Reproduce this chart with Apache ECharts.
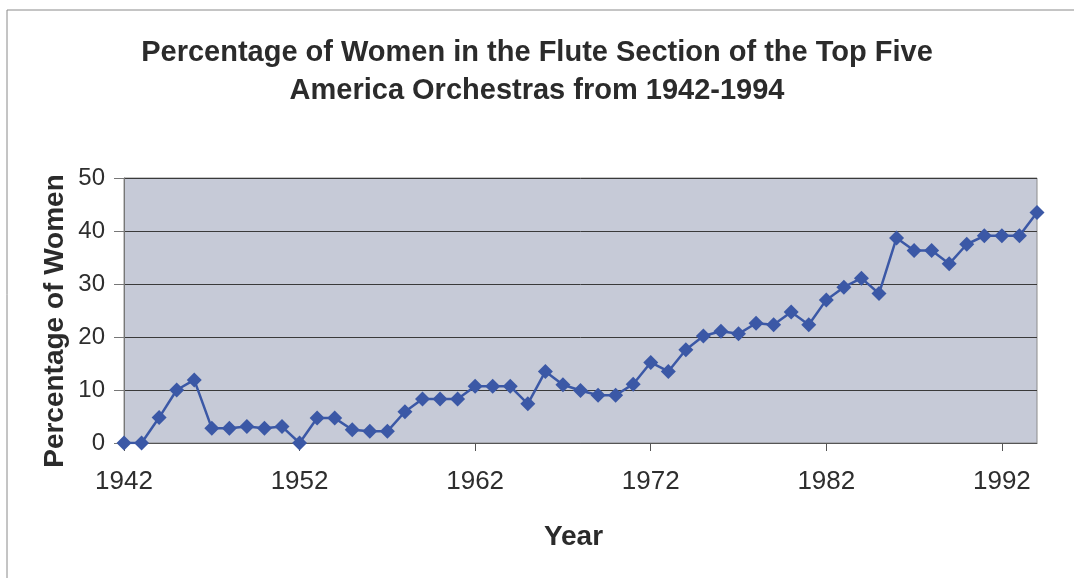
<!DOCTYPE html>
<html>
<head>
<meta charset="utf-8">
<script src="https://cdn.jsdelivr.net/npm/echarts@6/dist/echarts.min.js"></script>
<style>
  html, body { margin: 0; padding: 0; background: #fff; }
  #chart { width: 1074px; height: 578px; }
</style>
</head>
<body>
<div id="chart"></div>
<script>
  // years on the x axis, 1942 - 1994
  var years = ['1942','1943','1944','1945','1946','1947','1948','1949','1950','1951',
               '1952','1953','1954','1955','1956','1957','1958','1959','1960','1961',
               '1962','1963','1964','1965','1966','1967','1968','1969','1970','1971',
               '1972','1973','1974','1975','1976','1977','1978','1979','1980','1981',
               '1982','1983','1984','1985','1986','1987','1988','1989','1990','1991',
               '1992','1993','1994'];
  // percentage of women
  var womenPct = [0, 0, 4.8, 10, 11.9, 2.8, 2.8, 3.1, 2.8, 3.1,
                  0, 4.7, 4.7, 2.5, 2.2, 2.2, 5.9, 8.3, 8.3, 8.3,
                  10.7, 10.7, 10.7, 7.4, 13.5, 11, 9.9, 9, 9, 11.1,
                  15.2, 13.5, 17.6, 20.2, 21.1, 20.6, 22.6, 22.3, 24.7, 22.3,
                  27, 29.4, 31.1, 28.2, 38.7, 36.3, 36.3, 33.8, 37.5, 39.1,
                  39.1, 39.1, 43.5];
  var yTicks = [0, 10, 20, 30, 40, 50];

  var font = "'Liberation Sans', Arial, sans-serif";
  var myChart = echarts.init(document.getElementById('chart'));

  var option = {
    backgroundColor: '#fff',
    animation: false,
    title: {
      text: 'Percentage of Women in the Flute Section of the Top Five\nAmerica Orchestras from 1942-1994',
      left: 'center',
      top: 29,
      textStyle: {
        fontFamily: font,
        fontSize: 29,
        fontWeight: 'bold',
        color: '#2b2b2b',
        lineHeight: 38
      }
    },
    graphic: [
      { // outer chart frame
        type: 'rect',
        shape: { x: 7, y: 10, width: 1080, height: 600 },
        style: { fill: 'none', stroke: '#8a8a8a', lineWidth: 1 }
      },
      {
        type: 'text',
        x: 55, y: 321,
        rotation: Math.PI / 2,
        style: {
          text: 'Percentage of Women',
          fontFamily: font,
          fontSize: 28,
          fontWeight: 'bold',
          fill: '#2b2b2b',
          align: 'center',
          verticalAlign: 'middle'
        }
      }
    ],
    grid: {
      left: 124,
      right: 1074 - 1037,
      top: 178,
      bottom: 578 - 443,
      show: true,
      backgroundColor: '#c6cad7',
      borderColor: '#8c8c8c',
      borderWidth: 1
    },
    xAxis: {
      type: 'category',
      data: years,
      boundaryGap: false,
      name: 'Year',
      nameLocation: 'middle',
      nameGap: 80,
      nameTextStyle: {
        fontFamily: font,
        fontSize: 28,
        fontWeight: 'bold',
        color: '#2b2b2b',
        padding: [0, 14, 0, 0]
      },
      axisLine: { lineStyle: { color: '#555', width: 1 } },
      axisTick: { show: true, interval: 9, length: 8, lineStyle: { color: '#555' } },
      axisLabel: {
        interval: 9,
        margin: 26,
        fontFamily: font,
        fontSize: 26,
        color: '#2e2e2e'
      },
      splitLine: { show: false }
    },
    yAxis: {
      type: 'value',
      min: yTicks[0],
      max: yTicks[yTicks.length - 1],
      interval: 10,
      axisLine: { show: true, lineStyle: { color: '#777', width: 1 } },
      axisTick: { show: true, length: 10, lineStyle: { color: '#777' } },
      axisLabel: {
        margin: 19,
        fontFamily: font,
        fontSize: 24,
        color: '#2e2e2e'
      },
      splitLine: { show: true, lineStyle: { color: '#3a3a3a', width: 1 } }
    },
    series: [{
      name: 'Women',
      type: 'line',
      data: womenPct,
      symbol: 'diamond',
      symbolSize: 15,
      showSymbol: true,
      showAllSymbol: true,
      lineStyle: { color: '#3b58a6', width: 2.5 },
      itemStyle: { color: '#3b58a6' }
    }]
  };

  myChart.setOption(option);
</script>
</body>
</html>
